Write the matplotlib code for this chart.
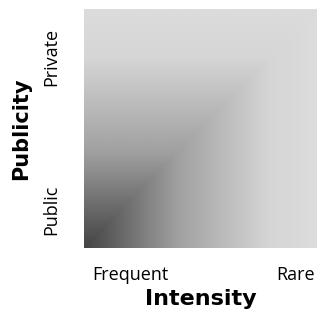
import numpy as np
import matplotlib
matplotlib.use("Agg")
import matplotlib.pyplot as plt
from matplotlib.colors import LinearSegmentedColormap

x_ticks = [0.2, 0.91]
x_labels = ["Frequent", "Rare"]
y_ticks = [0.16, 0.8]
y_labels = ["Public", "Private"]
x_title = "Intensity"
y_title = "Publicity"

fig = plt.figure(figsize=(3.18, 3.11), dpi=100)
ax = fig.add_axes([84/318, 1-248/311, 233/318, 239/311])

n = 300
xs = np.linspace(0, 1, n)
ys = np.linspace(0, 1, n)
X, Y = np.meshgrid(xs, ys)
Z = np.maximum(X, Y)

cmap = LinearSegmentedColormap.from_list(
    "g", [(0.0, "#444444"), (0.4, "#a0a0a0"), (0.8, "#d6d6d6"), (1.0, "#dcdcdc")])
ax.imshow(Z, origin="lower", extent=[0, 1, 0, 1], cmap=cmap, aspect="auto",
          interpolation="bilinear")
ax.set_xlim(0, 1)
ax.set_ylim(0, 1)
for s in ax.spines.values():
    s.set_visible(False)

ax.set_xticks(x_ticks)
ax.set_xticklabels(x_labels, fontsize=13, family="Open Sans")
ax.set_yticks(y_ticks)
ax.set_yticklabels(y_labels, fontsize=13, family="Open Sans", rotation=90, va="center")
ax.tick_params(axis="x", length=0, pad=13)
ax.tick_params(axis="y", length=0, pad=17)
ax.set_xlabel(x_title, fontsize=16, fontweight="bold", labelpad=3.5)
ax.set_ylabel(y_title, fontsize=15, fontweight="bold", labelpad=8)

fig.savefig("out.png", dpi=100)
